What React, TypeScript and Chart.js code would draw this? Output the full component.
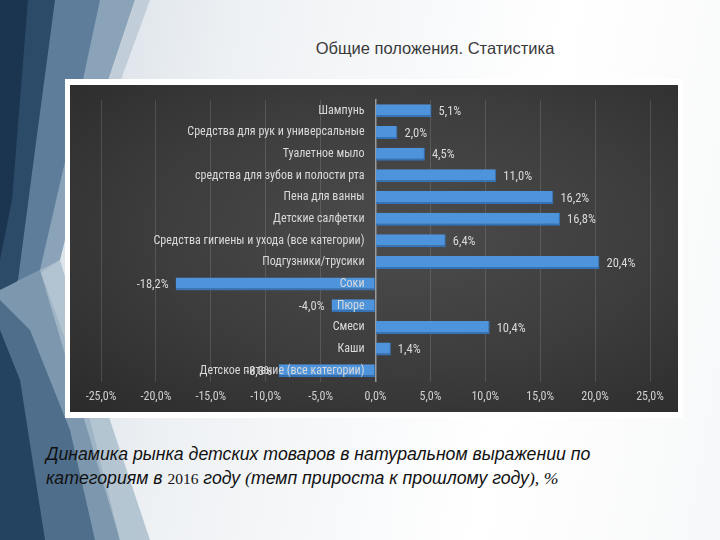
import React, { useEffect, useRef } from "react";
import { Chart, registerables } from "chart.js";

Chart.register(...registerables);

const categories: string[] = [
  "Шампунь",
  "Средства для рук и универсальные",
  "Туалетное мыло",
  "средства для зубов и полости рта",
  "Пена для ванны",
  "Детские салфетки",
  "Средства гигиены и ухода (все категории)",
  "Подгузники/трусики",
  "Соки",
  "Пюре",
  "Смеси",
  "Каши",
  "Детское питание (все категории)",
];

const growth: number[] = [5.1, 2.0, 4.5, 11.0, 16.2, 16.8, 6.4, 20.4, -18.2, -4.0, 10.4, 1.4, -8.8];

const xMin = -25;
const xMax = 25;
const xStep = 5;

const title = "Общие положения. Статистика";

const fmt = (v: number) => v.toFixed(1).replace(".", ",") + "%";

const CHART_FONT = "'Liberation Sans Narrow', 'Roboto Condensed', Roboto, sans-serif";

const barLabels = {
  id: "barLabels",
  afterDatasetsDraw(chart: any) {
    const ctx = chart.ctx;
    const meta = chart.getDatasetMeta(0);
    const zeroX = chart.scales.x.getPixelForValue(0);
    ctx.save();
    ctx.font = `12px ${CHART_FONT}`;
    ctx.fillStyle = "#d9d9d9";
    ctx.textBaseline = "middle";
    meta.data.forEach((bar: any, i: number) => {
      const v = growth[i];
      ctx.textAlign = "right";
      ctx.fillText(categories[i], zeroX - 11, bar.y);
      ctx.font = `12.5px ${CHART_FONT}`;
      if (v >= 0) {
        ctx.textAlign = "left";
        ctx.fillText(fmt(v), bar.x + 7, bar.y + 1);
      } else {
        ctx.textAlign = "right";
        ctx.fillText(fmt(v), bar.x - 7, bar.y + 1);
      }
      ctx.font = `12px ${CHART_FONT}`;
    });
    ctx.restore();
  },
};

function BarChart() {
  const ref = useRef<HTMLCanvasElement | null>(null);
  useEffect(() => {
    if (!ref.current) return;
    const chart = new Chart(ref.current, {
      type: "bar",
      data: {
        labels: categories,
        datasets: [
          {
            data: growth,
            backgroundColor: "#4d94dc",
            borderColor: "#3473b8",
            borderWidth: { top: 0, bottom: 2, left: 0, right: 1 } as any,
            borderSkipped: false,
            categoryPercentage: 1,
            barPercentage: 0.6,
          },
        ],
      },
      plugins: [barLabels],
      options: {
        indexAxis: "y",
        animation: false,
        responsive: false,
        maintainAspectRatio: false,
        layout: { padding: { left: 31, right: 28, top: 15, bottom: 0 } },
        plugins: {
          legend: { display: false },
          tooltip: { enabled: false },
          title: { display: false },
        },
        scales: {
          x: {
            type: "linear",
            min: xMin,
            max: xMax,
            ticks: {
              stepSize: xStep,
              callback: (v: any) => fmt(Number(v)),
              color: "#d0d0d0",
              font: { size: 12, family: CHART_FONT },
              padding: 8,
              maxRotation: 0,
            },
            grid: {
              color: "rgba(255,255,255,0.13)",
              drawTicks: false,
              lineWidth: 1,
            },
            border: { display: false },
          },
          y: {
            type: "category",
            position: { x: 0 } as any,
            ticks: { display: false },
            grid: { display: false, drawTicks: false },
            border: { display: true, color: "#9a9a9a", width: 1.5 },
          },
        },
      },
    });
    return () => chart.destroy();
  }, []);
  return <canvas ref={ref} width={608} height={327} style={{ display: "block" }} />;
}

export default function App() {
  const serif = { fontFamily: "'Liberation Serif', serif", fontStyle: "italic" as const };
  return (
    <div
      style={{
        position: "absolute",
        left: 0,
        top: 0,
        width: 720,
        height: 540,
        overflow: "hidden",
        background: "linear-gradient(100deg, #cfd9e2 0%, #eef1f4 30%, #ffffff 70%, #f7f8f9 100%)",
        fontFamily: "'Liberation Sans', Arial, sans-serif",
      }}
    >
      <svg width={720} height={540} style={{ position: "absolute", left: 0, top: 0 }}>
        <polygon points="0,0 135,0 95,120 60,260 0,300" fill="#8aa3b8" />
        <polygon points="0,0 100,0 70,140 40,270 0,290" fill="#5d7d9b" />
        <polygon points="0,0 55,0 35,150 18,280 0,300" fill="#2c4b69" />
        <polygon points="0,0 28,0 12,200 0,260" fill="#1b3550" />
        <polygon points="0,290 40,270 80,380 120,540 0,540" fill="#7d98ae" />
        <polygon points="0,300 30,330 70,430 95,540 0,540" fill="#4e6e8c" />
        <polygon points="0,330 20,380 45,540 0,540" fill="#244360" />
        <polygon points="40,270 60,260 90,360 150,540 120,540" fill="#a8bccb" opacity={0.8} />
        <polygon points="95,120 135,0 150,0 110,110" fill="#b9c8d4" opacity={0.8} />
      </svg>

      <div
        style={{
          position: "absolute",
          left: 260,
          top: 39,
          width: 350,
          textAlign: "center",
          fontSize: 16.5,
          color: "#3a3a3a",
          whiteSpace: "nowrap",
        }}
      >
        {title}
      </div>

      <div
        style={{
          position: "absolute",
          left: 65,
          top: 79,
          width: 618,
          height: 339,
          background: "#ffffff",
        }}
      />
      <div
        style={{
          position: "absolute",
          left: 70,
          top: 85,
          width: 608,
          height: 327,
          background: "radial-gradient(ellipse at 55% 45%, #4c4c4c 0%, #3c3c3c 55%, #2a2a2a 100%)",
        }}
      >
        <BarChart />
      </div>

      <div
        style={{
          position: "absolute",
          left: 46,
          top: 442,
          width: 660,
          fontSize: 17.7,
          fontStyle: "italic",
          lineHeight: "24px",
          color: "#111111",
          whiteSpace: "nowrap",
        }}
      >
        <div>Динамика рынка детских товаров в натуральном выражении по</div>
        <div>
          категориям в <span style={{ ...serif, fontStyle: "normal", fontSize: 15.5 }}>2016</span> году{" "}
          <span style={serif}>(</span>темп прироста к прошлому году<span style={serif}>), %</span>
        </div>
      </div>
    </div>
  );
}
